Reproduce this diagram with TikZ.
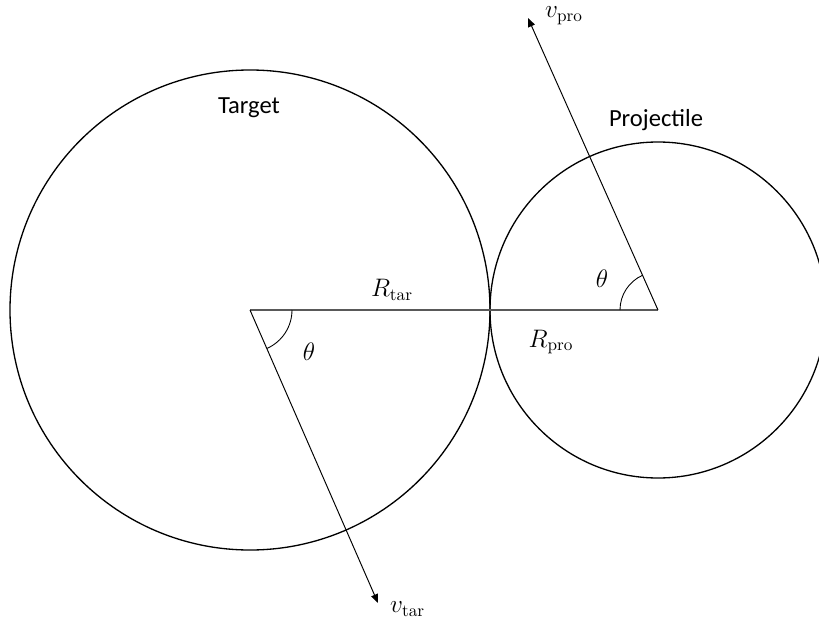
\documentclass[tikz,border=0pt]{standalone}
\usepackage{fontspec}
\newfontfamily\calibri{Carlito}
\usepackage{tikz}
\usetikzlibrary{arrows.meta, calc}

\tikzset{
  body/.style={draw=black, line width=0.75pt},
  radius line/.style={draw=black!65, line width=0.9pt},
  velocity/.style={draw=black, line width=0.55pt, -{Triangle[length=5pt, width=4pt]}},
  angle mark/.style={draw=black, line width=0.5pt},
  caption/.style={font=\fontsize{14}{16}\selectfont, inner sep=1pt},
  name label/.style={caption, font=\calibri\fontsize{14}{16}\selectfont},
}

\begin{document}
\begin{tikzpicture}[x=0.02cm, y=-0.02cm]
  \useasboundingbox (0,0) rectangle (819,619);
  % centres and velocity tips
  \coordinate (tar) at (250,310);
  \coordinate (pro) at (658,310);
  \coordinate (vtar) at (378,603);
  \coordinate (vpro) at (528,18);

  % the two bodies
  \draw[body] (tar) circle (240);
  \draw[body] (pro) circle (168);

  % line of centres
  \draw[radius line] (tar) -- (pro);

  % velocities
  \draw[velocity] (tar) -- (vtar);
  \draw[velocity] (pro) -- (vpro);

  % angles
  \draw[angle mark] ($(tar)+(42,0)$) arc[start angle=0, end angle=66, radius=42];
  \draw[angle mark] ($(pro)+(-38,0)$) arc[start angle=180, end angle=246, radius=38];

  % labels
  \node[name label] (target) at (249,108) {Target};
  \node[name label] (projectile) at (656,120) {Projectile};
  \node[caption] (rtar) at (392,290) {$R_{\mathrm{tar}}$};
  \node[caption] (rpro) at (551,342) {$R_{\mathrm{pro}}$};
  \node[caption] (thtar) at (309,352) {$\theta$};
  \node[caption] (thpro) at (602,279) {$\theta$};
  \node[caption, anchor=west] (ltar) at (388,609) {$v_{\mathrm{tar}}$};
  \node[caption, anchor=west] (lpro) at (543,16) {$v_{\mathrm{pro}}$};
\end{tikzpicture}
\end{document}
